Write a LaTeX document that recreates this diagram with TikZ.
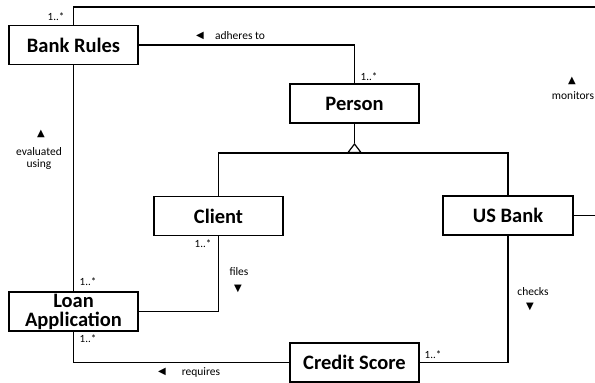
\documentclass[tikz,border=0pt]{standalone}
\usepackage{fontspec}
\setmainfont{Carlito}
\newfontfamily\symfont{DejaVu Sans}
\usetikzlibrary{arrows.meta}
\begin{document}
\begin{tikzpicture}[x=1pt,y=-1pt,
  cls/.style={draw, line width=1.4pt, minimum width=129pt, minimum height=39pt,
    inner sep=0pt, font=\fontsize{20.5}{20}\selectfont\bfseries, align=center},
  conn/.style={line width=1.4pt},
  lbl/.style={inner sep=0pt, font=\fontsize{11.5}{12.5}\selectfont, align=center},
  mult/.style={inner sep=0pt, font=\fontsize{11}{12}\selectfont},
  dirmark/.style={inner sep=0pt, font=\symfont\fontsize{10}{10}\selectfont}]
\useasboundingbox (0,0) rectangle (595,383);

% classes
\node[cls] (rules)  at (73.5,45)    {Bank Rules};
\node[cls] (person) at (354.5,103.5) {Person};
\node[cls] (client) at (218.5,216)  {Client};
\node[cls, minimum width=130pt] (bank) at (508,215.5) {US Bank};
\node[cls] (loan)   at (73.5,311.5) {Loan\\[-1pt]Application};
\node[cls] (score)  at (354.5,362.5) {Credit Score};

% helper points
\coordinate (montop) at (598,7);
\coordinate (monbot) at (598,215.5);
\coordinate (gen) at (354.5,153);

% associations
\draw[conn] (rules.north) |- (montop) -- (monbot) -- (bank.east);
\draw[conn] (rules.east) -| (person.north);
\draw[conn] (rules.south) -- (loan.north);
\draw[conn] (client.south) |- (loan.east);
\draw[conn] (loan.south) |- (score.west);
\draw[conn] (bank.south) |- (score.east);

% generalization
\draw[conn] (client.north) |- (gen) -| (bank.north);
\draw[conn, -{Triangle[open, width=15pt, length=10pt, line width=1.2pt]}] (gen) -- ++(0,-10) coordinate (tip);
\draw[conn] (person.south) -- (tip);

% multiplicities
\node[mult] (m1) at (56,17)   {1..*};
\node[mult] (m2) at (369,77)  {1..*};
\node[mult] (m3) at (203,244) {1..*};
\node[mult] (m4) at (88,282)  {1..*};
\node[mult] (m5) at (88,339)  {1..*};
\node[mult] (m6) at (433,355) {1..*};

% association names with reading direction
\node[dirmark] (d1) at (200,36)  {◀};
\node[lbl]     (l1) at (240,36)  {adheres to};
\node[dirmark] (d2) at (572,81)  {▲};
\node[lbl]     (l2) at (573,96)  {monitors};
\node[dirmark] (d3) at (41,134)  {▲};
\node[lbl]     (l3) at (39,158.5) {evaluated\\using};
\node[lbl]     (l4) at (239,272) {files};
\node[dirmark] (d4) at (238,289) {▼};
\node[dirmark] (d5) at (162,372) {◀};
\node[lbl]     (l5) at (201,372) {requires};
\node[lbl]     (l6) at (533,292) {checks};
\node[dirmark] (d6) at (530,307) {▼};
\end{tikzpicture}
\end{document}
